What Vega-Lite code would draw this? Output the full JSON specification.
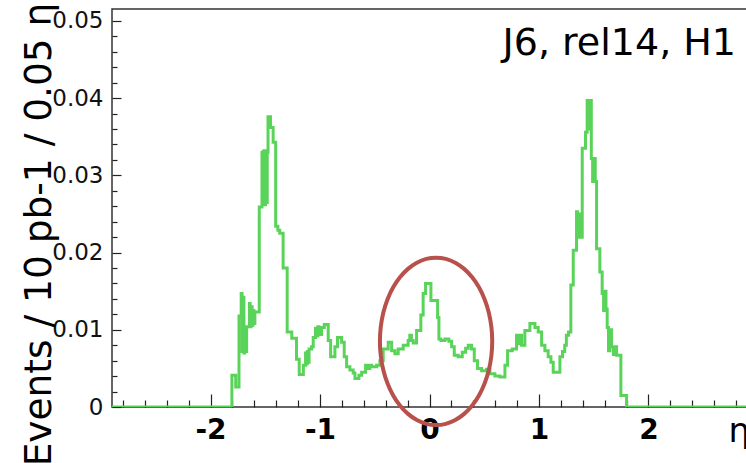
{
  "$schema": "https://vega.github.io/schema/vega-lite/v6.json",
  "autosize": {"type": "none"},
  "padding": {"left": 112, "top": 9, "right": 0, "bottom": 56},
  "width": 635,
  "height": 398,
  "background": "white",
  "config": {
    "view": {"stroke": "#333333", "strokeWidth": 1.5},
    "axis": {"grid": false, "domain": false, "tickColor": "#222222", "tickWidth": 1.2}
  },
  "datasets": {
    "hist": [
      {"eta": -2.9, "n": 0}, {"eta": -1.805, "n": 0.0041}, {"eta": -1.77, "n": 0.0026}, {"eta": -1.74, "n": 0.0118},
      {"eta": -1.72, "n": 0.0147}, {"eta": -1.712, "n": 0.0072}, {"eta": -1.705, "n": 0.0142}, {"eta": -1.695, "n": 0.007},
      {"eta": -1.688, "n": 0.0098}, {"eta": -1.68, "n": 0.0072}, {"eta": -1.67, "n": 0.0104}, {"eta": -1.645, "n": 0.0134},
      {"eta": -1.638, "n": 0.0104}, {"eta": -1.63, "n": 0.013}, {"eta": -1.62, "n": 0.0106}, {"eta": -1.612, "n": 0.0125},
      {"eta": -1.604, "n": 0.0108}, {"eta": -1.595, "n": 0.0123}, {"eta": -1.555, "n": 0.0259}, {"eta": -1.53, "n": 0.033},
      {"eta": -1.522, "n": 0.0262}, {"eta": -1.514, "n": 0.0332}, {"eta": -1.506, "n": 0.0262}, {"eta": -1.498, "n": 0.0332},
      {"eta": -1.49, "n": 0.0265}, {"eta": -1.482, "n": 0.033}, {"eta": -1.475, "n": 0.0376}, {"eta": -1.452, "n": 0.0362},
      {"eta": -1.428, "n": 0.0343}, {"eta": -1.405, "n": 0.0234}, {"eta": -1.385, "n": 0.0229}, {"eta": -1.368, "n": 0.0225},
      {"eta": -1.337, "n": 0.018}, {"eta": -1.3, "n": 0.0097}, {"eta": -1.258, "n": 0.0089}, {"eta": -1.215, "n": 0.0062},
      {"eta": -1.19, "n": 0.0042}, {"eta": -1.152, "n": 0.0054}, {"eta": -1.132, "n": 0.007}, {"eta": -1.124, "n": 0.0056},
      {"eta": -1.116, "n": 0.0072}, {"eta": -1.108, "n": 0.0058}, {"eta": -1.1, "n": 0.0075}, {"eta": -1.077, "n": 0.0078},
      {"eta": -1.062, "n": 0.009}, {"eta": -1.041, "n": 0.0102}, {"eta": -1.03, "n": 0.0092}, {"eta": -1.02, "n": 0.0104},
      {"eta": -1.01, "n": 0.0094}, {"eta": -0.986, "n": 0.0103}, {"eta": -0.961, "n": 0.0107}, {"eta": -0.925, "n": 0.0086},
      {"eta": -0.903, "n": 0.0065}, {"eta": -0.864, "n": 0.0078}, {"eta": -0.84, "n": 0.009}, {"eta": -0.803, "n": 0.0084},
      {"eta": -0.779, "n": 0.0065}, {"eta": -0.757, "n": 0.0052}, {"eta": -0.727, "n": 0.0048}, {"eta": -0.697, "n": 0.0044},
      {"eta": -0.681, "n": 0.0037}, {"eta": -0.645, "n": 0.0041}, {"eta": -0.62, "n": 0.0045}, {"eta": -0.584, "n": 0.0054},
      {"eta": -0.56, "n": 0.005}, {"eta": -0.545, "n": 0.0054}, {"eta": -0.529, "n": 0.0052}, {"eta": -0.483, "n": 0.0054},
      {"eta": -0.453, "n": 0.006}, {"eta": -0.423, "n": 0.0075}, {"eta": -0.377, "n": 0.0084}, {"eta": -0.346, "n": 0.0073},
      {"eta": -0.316, "n": 0.0069}, {"eta": -0.286, "n": 0.0075}, {"eta": -0.24, "n": 0.008}, {"eta": -0.195, "n": 0.0086},
      {"eta": -0.18, "n": 0.0093}, {"eta": -0.165, "n": 0.0086}, {"eta": -0.149, "n": 0.0083}, {"eta": -0.118, "n": 0.0099},
      {"eta": -0.079, "n": 0.0119}, {"eta": -0.058, "n": 0.0147}, {"eta": -0.036, "n": 0.016}, {"eta": 0.013, "n": 0.0138},
      {"eta": 0.074, "n": 0.0116}, {"eta": 0.086, "n": 0.0088}, {"eta": 0.104, "n": 0.0086}, {"eta": 0.141, "n": 0.0088},
      {"eta": 0.177, "n": 0.0085}, {"eta": 0.202, "n": 0.0078}, {"eta": 0.226, "n": 0.0067}, {"eta": 0.262, "n": 0.0065},
      {"eta": 0.299, "n": 0.0071}, {"eta": 0.33, "n": 0.0076}, {"eta": 0.354, "n": 0.008}, {"eta": 0.384, "n": 0.0075},
      {"eta": 0.409, "n": 0.006}, {"eta": 0.439, "n": 0.005}, {"eta": 0.476, "n": 0.0047}, {"eta": 0.521, "n": 0.0049},
      {"eta": 0.552, "n": 0.0043}, {"eta": 0.597, "n": 0.004}, {"eta": 0.643, "n": 0.0039}, {"eta": 0.689, "n": 0.0054},
      {"eta": 0.713, "n": 0.0073}, {"eta": 0.756, "n": 0.0075}, {"eta": 0.795, "n": 0.0093}, {"eta": 0.81, "n": 0.0082},
      {"eta": 0.825, "n": 0.0093}, {"eta": 0.841, "n": 0.008}, {"eta": 0.871, "n": 0.0099}, {"eta": 0.917, "n": 0.0108},
      {"eta": 0.963, "n": 0.0103}, {"eta": 0.993, "n": 0.0097}, {"eta": 1.024, "n": 0.008}, {"eta": 1.054, "n": 0.0073},
      {"eta": 1.084, "n": 0.0065}, {"eta": 1.109, "n": 0.0058}, {"eta": 1.13, "n": 0.0045}, {"eta": 1.191, "n": 0.0065},
      {"eta": 1.215, "n": 0.0072}, {"eta": 1.235, "n": 0.008}, {"eta": 1.25, "n": 0.0093}, {"eta": 1.27, "n": 0.0097},
      {"eta": 1.291, "n": 0.0158}, {"eta": 1.313, "n": 0.0203}, {"eta": 1.343, "n": 0.0253}, {"eta": 1.352, "n": 0.0222},
      {"eta": 1.361, "n": 0.025}, {"eta": 1.37, "n": 0.022}, {"eta": 1.395, "n": 0.0335}, {"eta": 1.425, "n": 0.0356},
      {"eta": 1.44, "n": 0.0397}, {"eta": 1.458, "n": 0.036}, {"eta": 1.466, "n": 0.0397}, {"eta": 1.478, "n": 0.0322},
      {"eta": 1.49, "n": 0.0292}, {"eta": 1.502, "n": 0.0322}, {"eta": 1.514, "n": 0.0292}, {"eta": 1.526, "n": 0.0205},
      {"eta": 1.556, "n": 0.0175}, {"eta": 1.577, "n": 0.0147}, {"eta": 1.59, "n": 0.0125}, {"eta": 1.602, "n": 0.015},
      {"eta": 1.612, "n": 0.0127}, {"eta": 1.623, "n": 0.0103}, {"eta": 1.635, "n": 0.0073}, {"eta": 1.648, "n": 0.01},
      {"eta": 1.663, "n": 0.0078}, {"eta": 1.68, "n": 0.0068}, {"eta": 1.69, "n": 0.0078}, {"eta": 1.709, "n": 0.0067},
      {"eta": 1.748, "n": 0.0015}, {"eta": 1.8, "n": 0}, {"eta": 2.9, "n": 0}
    ],
    "ellipse": [
      {"i": 0, "eta": 0.573, "n": 0.0085}, {"i": 1, "eta": 0.565, "n": 0.01038}, {"i": 2, "eta": 0.542, "n": 0.01221},
      {"i": 3, "eta": 0.504, "n": 0.01392}, {"i": 4, "eta": 0.453, "n": 0.01547}, {"i": 5, "eta": 0.39, "n": 0.0168},
      {"i": 6, "eta": 0.3165, "n": 0.01789}, {"i": 7, "eta": 0.2355, "n": 0.01869}, {"i": 8, "eta": 0.149, "n": 0.01918},
      {"i": 9, "eta": 0.06, "n": 0.01934}, {"i": 10, "eta": -0.029, "n": 0.01918}, {"i": 11, "eta": -0.1155, "n": 0.01869},
      {"i": 12, "eta": -0.1965, "n": 0.01789}, {"i": 13, "eta": -0.27, "n": 0.0168}, {"i": 14, "eta": -0.333, "n": 0.01547},
      {"i": 15, "eta": -0.384, "n": 0.01392}, {"i": 16, "eta": -0.422, "n": 0.01221}, {"i": 17, "eta": -0.445, "n": 0.01038},
      {"i": 18, "eta": -0.453, "n": 0.0085}, {"i": 19, "eta": -0.445, "n": 0.00662}, {"i": 20, "eta": -0.422, "n": 0.00479},
      {"i": 21, "eta": -0.384, "n": 0.00308}, {"i": 22, "eta": -0.333, "n": 0.00153}, {"i": 23, "eta": -0.27, "n": 0.0002},
      {"i": 24, "eta": -0.1965, "n": -0.00089}, {"i": 25, "eta": -0.1155, "n": -0.00169}, {"i": 26, "eta": -0.029, "n": -0.00218},
      {"i": 27, "eta": 0.06, "n": -0.00234}, {"i": 28, "eta": 0.149, "n": -0.00218}, {"i": 29, "eta": 0.2355, "n": -0.00169},
      {"i": 30, "eta": 0.3165, "n": -0.00089}, {"i": 31, "eta": 0.39, "n": 0.0002}, {"i": 32, "eta": 0.453, "n": 0.00153},
      {"i": 33, "eta": 0.504, "n": 0.00308}, {"i": 34, "eta": 0.542, "n": 0.00479}, {"i": 35, "eta": 0.565, "n": 0.00662}
    ],
    "label": [{"eta": 2.8, "n": 0.04557, "text": "J6, rel14, H1"}]
  },
  "layer": [
    {
      "data": {"name": "hist"},
      "mark": {"type": "line", "interpolate": "step-after", "color": "#5ad35a", "strokeWidth": 3, "clip": true},
      "encoding": {
        "x": {
          "field": "eta", "type": "quantitative",
          "scale": {"domain": [-2.9, 2.9], "nice": false, "zero": false},
          "axis": {
            "values": [-2, -1, 0, 1, 2], "tickSize": -13, "labelPadding": 22,
            "labelExpr": "datum.value < 0 ? '-' + format(-datum.value, 'd') : format(datum.value, 'd')",
            "labelFont": "DejaVu Sans", "labelFontWeight": "bold", "labelFontSize": 28, "labelColor": "#000000",
            "title": "η", "titleFont": "DejaVu Sans", "titleFontWeight": "normal", "titleFontSize": 34, "titleColor": "#000000",
            "titleX": 616, "titleY": 34, "titleAlign": "left", "titleBaseline": "alphabetic", "titleAnchor": null
          }
        },
        "y": {
          "field": "n", "type": "quantitative",
          "scale": {"domain": [0, 0.05155], "nice": false, "zero": true},
          "axis": {
            "values": [0, 0.01, 0.02, 0.03, 0.04, 0.05], "tickSize": -9, "labelPadding": 18,
            "labelExpr": "datum.value == 0 ? '0' : format(datum.value, '.2f')",
            "labelFont": "DejaVu Sans", "labelFontSize": 23, "labelColor": "#111111",
            "title": "Events / 10 pb-1 / 0.05 η", "titleFont": "DejaVu Sans", "titleFontWeight": "normal", "titleFontSize": 37.5, "titleColor": "#000000",
            "titleAngle": 270, "titleX": -62, "titleY": 225, "titleAlign": "center", "titleBaseline": "alphabetic"
          }
        }
      }
    },
    {
      "data": {"name": "ellipse"},
      "mark": {"type": "line", "interpolate": "cardinal-closed", "color": "#b8504c", "strokeWidth": 4, "clip": false},
      "encoding": {
        "x": {
          "field": "eta", "type": "quantitative",
          "axis": {
            "orient": "bottom", "values": [-2.8, -2.6, -2.4, -2.2, -1.8, -1.6, -1.4, -1.2, -0.8, -0.6, -0.4, -0.2, 0.2, 0.4, 0.6, 0.8, 1.2, 1.4, 1.6, 1.8, 2.2, 2.4, 2.6, 2.8],
            "tickSize": -7, "labels": false, "title": null
          }
        },
        "y": {
          "field": "n", "type": "quantitative",
          "axis": {
            "orient": "left", "values": [0.002, 0.004, 0.006, 0.008, 0.012, 0.014, 0.016, 0.018, 0.022, 0.024, 0.026, 0.028, 0.032, 0.034, 0.036, 0.038, 0.042, 0.044, 0.046, 0.048],
            "tickSize": -5, "labels": false, "title": null
          }
        },
        "order": {"field": "i", "type": "quantitative"}
      }
    },
    {
      "data": {"name": "label"},
      "mark": {"type": "text", "align": "right", "baseline": "alphabetic", "font": "DejaVu Sans", "fontSize": 38, "color": "#000000"},
      "encoding": {
        "x": {"field": "eta", "type": "quantitative", "axis": null},
        "y": {"field": "n", "type": "quantitative", "axis": null},
        "text": {"field": "text"}
      }
    }
  ],
  "resolve": {"axis": {"x": "independent", "y": "independent"}}
}
